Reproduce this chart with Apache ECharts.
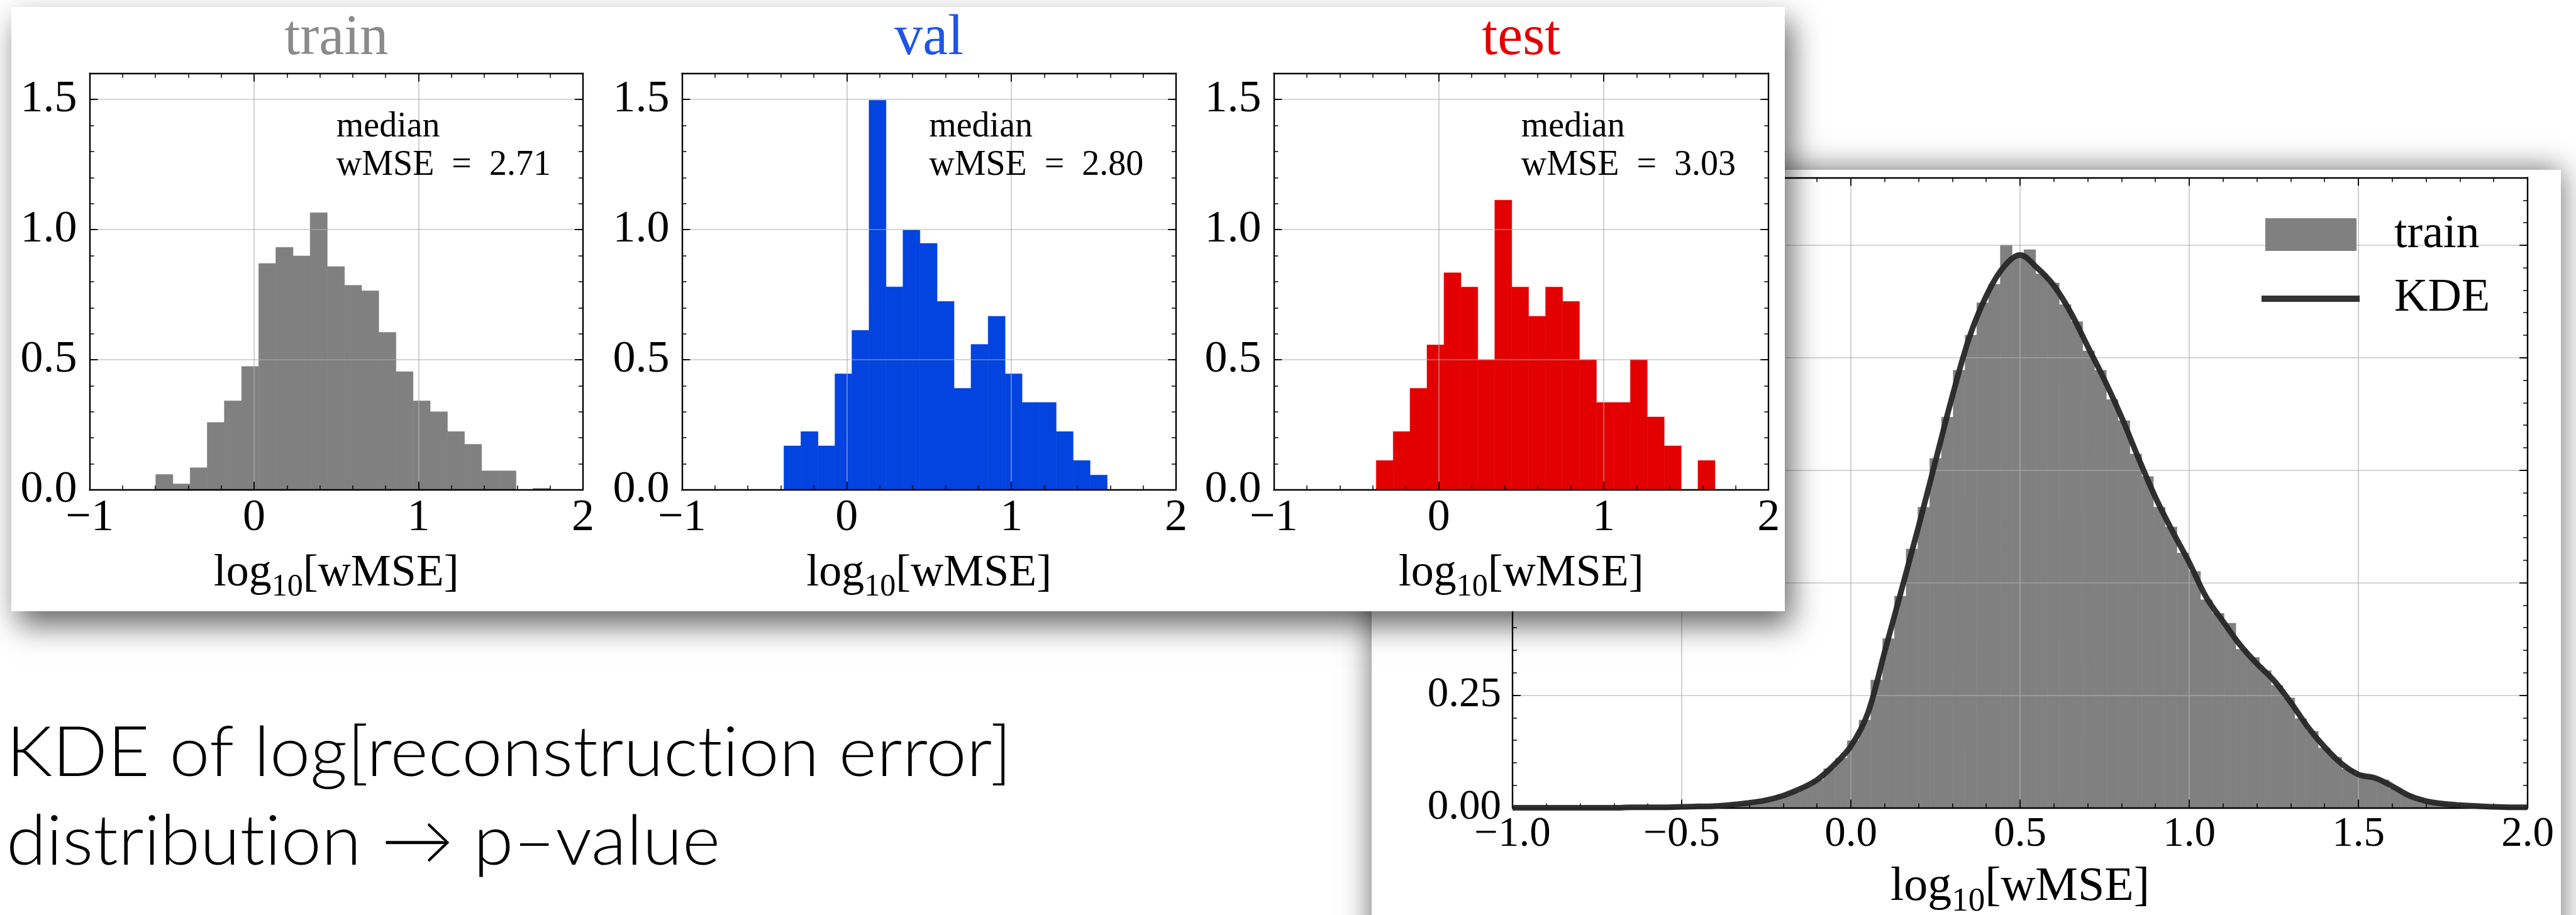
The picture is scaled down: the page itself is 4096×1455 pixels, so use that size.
<!DOCTYPE html>
<html>
<head>
<meta charset="utf-8">
<title>wMSE distributions and KDE</title>
<script src="https://cdn.jsdelivr.net/npm/echarts@6.0.0/dist/echarts.min.js"></script>
<style>
  html, body { margin: 0; padding: 0; background: #ffffff; overflow: hidden; }
  #chart { width: 4096px; height: 1455px; }
</style>
</head>
<body>
<div id="chart"></div>
<script>
// ---------------------------------------------------------------------------
// Data: normalised histograms of log10[wMSE] per split (bin edges + densities)
// ---------------------------------------------------------------------------
const TRAIN_EDGES = [-0.598, -0.494, -0.389, -0.285, -0.181, -0.076, 0.028, 0.132, 0.237, 0.341,
  0.445, 0.550, 0.654, 0.758, 0.863, 0.967, 1.071, 1.176, 1.280, 1.384, 1.489, 1.593, 1.697, 1.802];
const TRAIN_DENSITY = [0.059, 0.023, 0.085, 0.259, 0.342, 0.474, 0.870, 0.932, 0.899, 1.065,
  0.858, 0.786, 0.765, 0.605, 0.454, 0.342, 0.300, 0.224, 0.175, 0.073, 0.073, 0.000, 0.006];

const VAL_EDGES = [-0.381, -0.278, -0.174, -0.071, 0.032, 0.136, 0.239, 0.342, 0.445, 0.549,
  0.652, 0.755, 0.859, 0.962, 1.065, 1.168, 1.272, 1.375, 1.478, 1.582];
const VAL_DENSITY = [0.169, 0.224, 0.169, 0.446, 0.613, 1.497, 0.780, 0.998, 0.947, 0.724,
  0.390, 0.559, 0.667, 0.446, 0.336, 0.336, 0.224, 0.113, 0.057];

const TEST_EDGES = [-0.379, -0.276, -0.174, -0.071, 0.032, 0.135, 0.237, 0.340, 0.443, 0.545,
  0.648, 0.751, 0.853, 0.956, 1.059, 1.162, 1.264, 1.367, 1.470, 1.572, 1.675];
const TEST_DENSITY = [0.113, 0.224, 0.390, 0.557, 0.834, 0.779, 0.500, 1.113, 0.779, 0.667,
  0.779, 0.724, 0.500, 0.336, 0.336, 0.500, 0.280, 0.169, 0.000, 0.113];

const MEDIAN_WMSE = ['2.71', '2.80', '3.03'];
const SPLIT_NAMES = ['train', 'val', 'test'];

// Full training set: fine histogram (uniform bins) and its kernel density estimate
const KDE_HIST_START = -0.463;
const KDE_HIST_WIDTH = 0.0348;
const KDE_HIST_DENSITY = [
  0.003, 0.004, 0.005, 0.007, 0.010, 0.014, 0.018, 0.027, 0.034, 0.049,
  0.062, 0.087, 0.110, 0.149, 0.195, 0.284, 0.376, 0.470, 0.575, 0.668,
  0.776, 0.868, 0.972, 1.050, 1.122, 1.163, 1.250, 1.222, 1.240, 1.186,
  1.166, 1.118, 1.080, 1.015, 0.972, 0.907, 0.860, 0.786, 0.736, 0.668,
  0.624, 0.566, 0.525, 0.462, 0.432, 0.410, 0.352, 0.334, 0.305, 0.272,
  0.244, 0.198, 0.170, 0.133, 0.112, 0.086, 0.074, 0.066, 0.062, 0.043,
  0.031, 0.018, 0.013, 0.009, 0.007, 0.005, 0.004, 0.003, 0.002, 0.001];

const KDE_X = [-1.00, -0.95, -0.90, -0.85, -0.80, -0.75, -0.70, -0.65, -0.60, -0.55,
  -0.50, -0.45, -0.40, -0.35, -0.30, -0.25, -0.20, -0.15, -0.10, -0.05,
  0.00, 0.05, 0.10, 0.15, 0.20, 0.25, 0.30, 0.35, 0.40, 0.45,
  0.50, 0.55, 0.60, 0.65, 0.70, 0.75, 0.80, 0.85, 0.90, 0.95,
  1.00, 1.05, 1.10, 1.15, 1.20, 1.25, 1.30, 1.35, 1.40, 1.45,
  1.50, 1.55, 1.60, 1.65, 1.70, 1.75, 1.80, 1.85, 1.90, 1.95, 2.00];
const KDE_Y = [0.000, 0.000, 0.000, 0.000, 0.000, 0.000, 0.000, 0.001, 0.001, 0.001,
  0.002, 0.003, 0.004, 0.007, 0.011, 0.017, 0.027, 0.042, 0.062, 0.095,
  0.137, 0.210, 0.347, 0.485, 0.625, 0.770, 0.915, 1.045, 1.137, 1.200,
  1.228, 1.200, 1.160, 1.100, 1.025, 0.950, 0.868, 0.777, 0.690, 0.615,
  0.545, 0.468, 0.414, 0.362, 0.320, 0.283, 0.234, 0.180, 0.135, 0.098,
  0.074, 0.066, 0.048, 0.027, 0.015, 0.009, 0.006, 0.004, 0.002, 0.001, 0.001];

// Caption lines (zero-width non-joiners keep "t" and "i" as separate glyphs)
const CAPTION = ['KDE of log[reconstruct\u200Cion error]', 'distribut\u200Cion \u2192 p\u2013value'];

// ---------------------------------------------------------------------------
// Styling and layout
// ---------------------------------------------------------------------------
const SERIF = "'Liberation Serif', 'DejaVu Serif', serif";
const SANS = "Lato, 'Noto Sans', 'Open Sans', sans-serif";
const INK = '#000000';
const GRID_COLOR = 'rgba(175,175,175,0.69)';
const FRAME_W = 2.4, TICK_W = 1.8, MINOR_W = 1.5, GRID_W = 1.7;
const MAJOR_LEN = 13, MINOR_LEN = 7;

const SPLIT_COLORS = ['#808080', '#0343df', '#e30000'];
const TITLE_COLORS = ['#8a8a8a', '#1f55e6', '#e30000'];

const TOP_GRIDS = [
  { left: 142.6, width: 784.3 },
  { left: 1084.4, width: 785.6 },
  { left: 2025.4, width: 786.8 }
];
const TOP_GRID_TOP = 116.8, TOP_GRID_H = 662.2;
const KDE_GRID = { left: 2405, top: 282.5, width: 1614, height: 1002 };

const TOP_CARD = { x: 18, y: 11, w: 2820, h: 961 };
const KDE_CARD = { x: 2181, y: 270, w: 1891, h: 1300 };

const ANNOT_X = 0.5; // annotation anchored at log10 = 0.5

const minusSign = (s) => s.replace('-', '\u2212');
const fmtInt = (v) => {
  const r = Math.round(v * 1000) / 1000;
  return Number.isInteger(r) ? minusSign(String(r)) : '';
};
const fmtHalf = (v) => {
  const q = v * 2;
  return Math.abs(q - Math.round(q)) < 1e-6 ? v.toFixed(1) : '';
};
const fmtKdeX = (v) => minusSign(v.toFixed(1));
const fmtQuarter = (v) => {
  const q = v * 4;
  return Math.abs(q - Math.round(q)) < 1e-6 ? v.toFixed(2) : '';
};

// --- axis builders -----------------------------------------------------------
function xAxisPair(gi, zl, spec) {
  const base = {
    gridIndex: gi, type: 'value', min: spec.min, max: spec.max, interval: spec.interval,
    zlevel: zl, z: 3, silent: true,
    axisLine: { show: true, onZero: false, lineStyle: { color: INK, width: FRAME_W } },
    axisTick: { show: true, inside: true, length: MAJOR_LEN, lineStyle: { color: INK, width: TICK_W } },
    minorTick: { show: true, splitNumber: spec.minorSplit, length: MINOR_LEN, lineStyle: { color: INK, width: MINOR_W } },
    minorSplitLine: { show: false }
  };
  const bottom = Object.assign({}, base, {
    position: 'bottom',
    splitLine: { show: true, lineStyle: { color: GRID_COLOR, width: GRID_W } },
    axisLabel: {
      show: true, margin: spec.labelMargin, formatter: spec.fmt, color: INK,
      fontFamily: SERIF, fontSize: spec.labelSize, showMinLabel: true, showMaxLabel: true
    },
    name: '{a|log}{s|10}{a|[wMSE]}',
    nameLocation: 'middle', nameGap: spec.nameGap, nameMoveOverlap: false,
    nameTextStyle: {
      rich: {
        a: { fontFamily: SERIF, fontSize: spec.nameSize, color: INK },
        s: { fontFamily: SERIF, fontSize: spec.subSize, color: INK, padding: [spec.subPad, 0, 0, 0] }
      }
    }
  });
  const top = Object.assign({}, base, {
    position: 'top', splitLine: { show: false }, axisLabel: { show: false }
  });
  return [bottom, top];
}

function yAxisSet(gi, zl, spec) {
  const major = (side) => ({
    gridIndex: gi, type: 'value', position: side, min: spec.min, max: spec.max, interval: spec.interval,
    zlevel: zl, z: 3, silent: true,
    axisLine: { show: true, onZero: false, lineStyle: { color: INK, width: FRAME_W } },
    axisTick: { show: true, inside: true, length: MAJOR_LEN, lineStyle: { color: INK, width: TICK_W } },
    minorTick: { show: false },
    splitLine: { show: side === 'left', lineStyle: { color: GRID_COLOR, width: GRID_W } },
    axisLabel: side === 'left' ? {
      show: true, margin: spec.labelMargin, formatter: spec.fmt, color: INK,
      fontFamily: SERIF, fontSize: spec.labelSize, showMaxLabel: false
    } : { show: false }
  });
  const minor = (side) => ({
    gridIndex: gi, type: 'value', position: side, min: spec.min, max: spec.max, interval: spec.minorInterval,
    zlevel: zl, z: 3, silent: true,
    axisLine: { show: false, onZero: false },
    axisTick: { show: true, inside: true, length: MINOR_LEN, lineStyle: { color: INK, width: MINOR_W } },
    minorTick: { show: false },
    splitLine: { show: false },
    axisLabel: { show: false }
  });
  return [major('left'), minor('left'), major('right'), minor('right')];
}

// --- histogram as a custom series ----------------------------------------------
function histSeries(name, edges, dens, color, xi, yi, zl) {
  return {
    type: 'custom', name, xAxisIndex: xi, yAxisIndex: yi, zlevel: zl, z: 1,
    silent: true, clip: true,
    encode: { x: [0, 1], y: 2 },
    data: dens.map((d, i) => [edges[i], edges[i + 1], d]),
    renderItem: (params, api) => {
      const p0 = api.coord([api.value(0), api.value(2)]);
      const p1 = api.coord([api.value(1), 0]);
      return {
        type: 'rect',
        shape: { x: p0[0], y: p0[1], width: p1[0] - p0[0], height: p1[1] - p0[1] },
        style: { fill: color, stroke: color, lineWidth: 0.6 }
      };
    }
  };
}

const kdeEdges = KDE_HIST_DENSITY.map((_, i) => KDE_HIST_START + i * KDE_HIST_WIDTH)
  .concat([KDE_HIST_START + KDE_HIST_DENSITY.length * KDE_HIST_WIDTH]);

// ---------------------------------------------------------------------------
const splits = [
  { edges: TRAIN_EDGES, dens: TRAIN_DENSITY },
  { edges: VAL_EDGES, dens: VAL_DENSITY },
  { edges: TEST_EDGES, dens: TEST_DENSITY }
];

const smallX = { min: -1, max: 2, interval: 1, minorSplit: 5, fmt: fmtInt, labelSize: 72, labelMargin: 9,
  nameGap: 87, nameSize: 72, subSize: 50, subPad: 43 };
const smallY = { min: 0, max: 1.6, interval: 0.5, minorInterval: 0.1, fmt: fmtHalf, labelSize: 72, labelMargin: 20 };
const kdeX = { min: -1, max: 2, interval: 0.5, minorSplit: 5, fmt: fmtKdeX, labelSize: 67, labelMargin: 9,
  nameGap: 77, nameSize: 76, subSize: 53, subPad: 46 };
const kdeY = { min: 0, max: 1.4, interval: 0.25, minorInterval: 0.05, fmt: fmtQuarter, labelSize: 67, labelMargin: 18 };

const grids = [], xAxes = [], yAxes = [], series = [];
splits.forEach((s, i) => {
  grids.push({ left: TOP_GRIDS[i].left, top: TOP_GRID_TOP, width: TOP_GRIDS[i].width, height: TOP_GRID_H,
    containLabel: false, outerBoundsMode: 'none', zlevel: 1 });
  xAxes.push(...xAxisPair(i, 1, smallX));
  yAxes.push(...yAxisSet(i, 1, smallY));
  series.push(histSeries(SPLIT_NAMES[i], s.edges, s.dens, SPLIT_COLORS[i], 2 * i, 4 * i, 1));
});

grids.push({ left: KDE_GRID.left, top: KDE_GRID.top, width: KDE_GRID.width, height: KDE_GRID.height,
  containLabel: false, outerBoundsMode: 'none', zlevel: 0 });
xAxes.push(...xAxisPair(3, 0, kdeX));
yAxes.push(...yAxisSet(3, 0, kdeY));
series.push(histSeries('train', kdeEdges, KDE_HIST_DENSITY, '#808080', 6, 12, 0));
series.push({
  type: 'line', name: 'KDE', xAxisIndex: 6, yAxisIndex: 12, zlevel: 0, z: 5,
  data: KDE_X.map((x, i) => [x, KDE_Y[i]]),
  smooth: 0.35, showSymbol: false, symbol: 'none', silent: true, clip: true,
  lineStyle: { color: '#262626', width: 9, opacity: 0.95 }
});

const chart = echarts.init(document.getElementById('chart'), null, { renderer: 'canvas' });
chart.setOption({
  animation: false,
  backgroundColor: '#ffffff',
  grid: grids, xAxis: xAxes, yAxis: yAxes, series
});

// --- cards, titles, annotations, legend and caption -------------------------------
const textEl = (zl, text, x, y, font, fill, align, extra) => Object.assign({
  type: 'text', zlevel: zl, z: 10, silent: true, x, y,
  style: { text, x: 0, y: 0, font, fill, align, verticalAlign: 'middle', textAlign: align, textVerticalAlign: 'middle' }
}, extra || {});

const elements = [];
elements.push({
  type: 'rect', zlevel: 0, z: -5, silent: true,
  shape: { x: KDE_CARD.x, y: KDE_CARD.y, width: KDE_CARD.w, height: KDE_CARD.h },
  style: { fill: '#ffffff', shadowBlur: 45, shadowColor: 'rgba(0,0,0,0.6)', shadowOffsetX: 0, shadowOffsetY: 0 }
});
elements.push({
  type: 'rect', zlevel: 1, z: -5, silent: true,
  shape: { x: TOP_CARD.x, y: TOP_CARD.y, width: TOP_CARD.w, height: TOP_CARD.h },
  style: { fill: '#ffffff', shadowBlur: 45, shadowColor: 'rgba(0,0,0,0.6)', shadowOffsetX: 10, shadowOffsetY: 22 }
});

splits.forEach((s, i) => {
  const g = TOP_GRIDS[i];
  elements.push(textEl(1, SPLIT_NAMES[i], g.left + g.width / 2, 62, '90px ' + SERIF, TITLE_COLORS[i], 'center'));
  const px = chart.convertToPixel({ xAxisIndex: 2 * i, yAxisIndex: 4 * i }, [ANNOT_X, 0])[0];
  elements.push(textEl(1, 'median', px, TOP_GRID_TOP + 85, '56px ' + SERIF, INK, 'left'));
  elements.push(textEl(1, 'wMSE\u2002=\u2002' + MEDIAN_WMSE[i], px, TOP_GRID_TOP + 146, '56px ' + SERIF, INK, 'left'));
});

// legend of the KDE panel
elements.push({
  type: 'rect', zlevel: 0, z: 10, silent: true,
  shape: { x: 3602, y: 347, width: 145, height: 52 }, style: { fill: '#808080' }
});
elements.push({
  type: 'line', zlevel: 0, z: 10, silent: true,
  shape: { x1: 3596, y1: 475, x2: 3752, y2: 475 }, style: { stroke: '#333333', lineWidth: 10 }
});
elements.push(textEl(0, 'train', 3807, 374, '74px ' + SERIF, INK, 'left'));
elements.push(textEl(0, 'KDE', 3807, 475, '74px ' + SERIF, INK, 'left'));

// caption
elements.push(textEl(0, CAPTION[0], 10, 1198, '300 111px ' + SANS, INK, 'left', { scaleX: 1.04 }));
elements.push(textEl(0, CAPTION[1], 10, 1339, '300 111px ' + SANS, INK, 'left', { scaleX: 1.04 }));

chart.setOption({ graphic: { elements } });
</script>
</body>
</html>
